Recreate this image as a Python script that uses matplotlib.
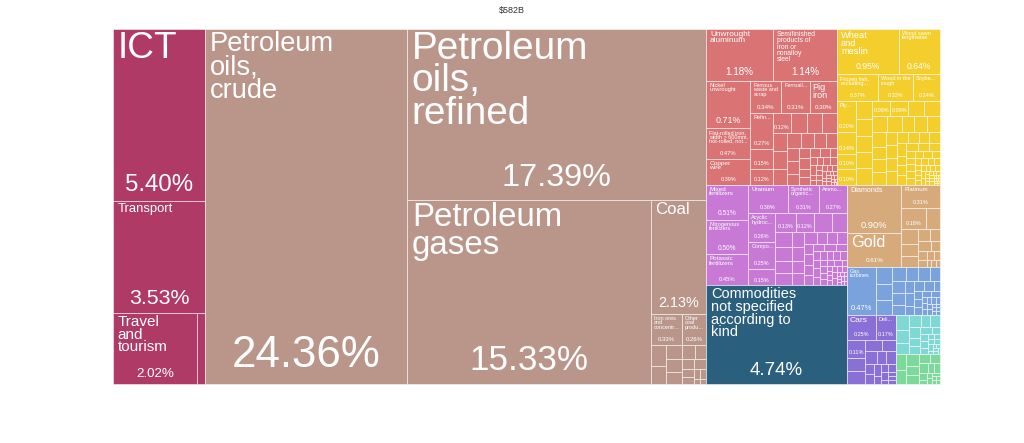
import matplotlib
matplotlib.use('Agg')
import matplotlib.pyplot as plt
from matplotlib.patches import Rectangle
from matplotlib.textpath import TextPath
from matplotlib.font_manager import FontProperties

TITLE = '$582B'

# sector groups, in the order the treemap lays them out
group_names = ['Services', 'Mineral Products', 'Metals', 'Vegetable and Animal Products',
               'Chemical Products', 'Commodities', 'Precious Metals', 'Machines',
               'Transportation', 'Instruments', 'Miscellaneous']
group_colors = ['#AF3A66', '#BA968A', '#D97374', '#F4CE2D', '#C879D6', '#2A5F7E',
                '#D7AA7B', '#7AA2DC', '#8A6FD6', '#7FD8D4', '#7DD89B']

services_names = ['ICT', 'Transport', 'Travel and tourism', '']
services_vals = [5.40, 3.53, 2.02, 0.20]

mineral_names = ['Petroleum oils, crude', 'Petroleum oils, refined', 'Petroleum gases', 'Coal',
                 'Iron ores and concentrates', 'Other coal products']
mineral_vals = [24.36, 17.39, 15.33, 2.13, 0.33, 0.26]
mineral_small = [0.10, 0.09, 0.08, 0.07, 0.07, 0.06, 0.05, 0.04, 0.04, 0.03, 0.03, 0.02,
                 0.02, 0.01, 0.01]

metals_names = ['Unwrought aluminum', 'Semifinished products of iron or nonalloy steel',
                'Nickel unwrought', 'Flat-rolled iron, width > 600mm, hot-rolled, not clad',
                'Copper wire', 'Ferrous waste and scrap', 'Ferroalloys', 'Pig iron',
                'Refined copper and copper alloys', '', '', '']
metals_vals = [1.18, 1.14, 0.71, 0.47, 0.39, 0.34, 0.31, 0.30, 0.27, 0.15, 0.12, 0.12]
metals_small = [0.11, 0.10, 0.10, 0.09, 0.09, 0.08, 0.07, 0.07, 0.06, 0.06, 0.05, 0.05,
                0.04, 0.04, 0.04, 0.03, 0.03, 0.03, 0.03, 0.02, 0.02, 0.02, 0.02, 0.02, 0.02,
                0.01, 0.01, 0.01, 0.01, 0.01, 0.01, 0.01, 0.01, 0.01, 0.01,
                0.005, 0.005, 0.005, 0.005, 0.005, 0.005, 0.005, 0.005,
                0.004, 0.004, 0.003, 0.003, 0.002, 0.002, 0.002, 0.001]

veg_names = ['Wheat and meslin', 'Wood sawn lengthwise', 'Frozen fish, excluding fillets',
             'Wood in the rough', 'Soybeans and oleaginous fruits', 'Plywood, veneered panels', '']
veg_vals = [0.95, 0.64, 0.37, 0.32, 0.24, 0.20, 0.14]
veg_small = [0.10, 0.10, 0.10, 0.09, 0.09, 0.09, 0.09, 0.09, 0.09,
             0.08, 0.08, 0.08, 0.08, 0.07, 0.07, 0.07, 0.07, 0.06, 0.06, 0.06,
             0.05, 0.05, 0.05, 0.05, 0.04, 0.04, 0.04, 0.04, 0.04,
             0.03, 0.03, 0.03, 0.03, 0.03, 0.03,
             0.02, 0.02, 0.02, 0.02, 0.02, 0.02, 0.02, 0.02, 0.015, 0.015, 0.015, 0.015,
             0.01, 0.01, 0.01, 0.01, 0.01, 0.01, 0.01, 0.01, 0.01, 0.01,
             0.005, 0.005, 0.005, 0.005, 0.005, 0.005, 0.005, 0.005, 0.005, 0.005,
             0.002, 0.002, 0.002, 0.002, 0.002, 0.002, 0.002, 0.002, 0.002, 0.002]

chem_names = ['Mixed fertilizers', 'Nitrogenous fertilizers', 'Potassic fertilizers', 'Uranium',
              'Synthetic organic coloring matter', 'Ammonia', 'Acyclic hydrocarbons',
              'Compounds of rare-earth metals', '', '']
chem_vals = [0.51, 0.50, 0.45, 0.38, 0.31, 0.27, 0.26, 0.25, 0.15, 0.13]
chem_small = [0.12, 0.11, 0.10, 0.09, 0.08, 0.07, 0.07, 0.06, 0.06, 0.05, 0.05, 0.05,
              0.04, 0.04, 0.04, 0.03, 0.03, 0.03, 0.03, 0.03, 0.03, 0.03,
              0.02, 0.02, 0.02, 0.02, 0.02, 0.02, 0.02, 0.02,
              0.015, 0.015, 0.015, 0.015, 0.015, 0.015,
              0.01, 0.01, 0.01, 0.01, 0.01, 0.01, 0.01, 0.01, 0.01, 0.01,
              0.005, 0.005, 0.005, 0.005, 0.005, 0.005, 0.005, 0.005, 0.005, 0.005]

commod_names = ['Commodities not specified according to kind']
commod_vals = [4.74]

precious_names = ['Diamonds', 'Gold', 'Platinum', '']
precious_vals = [0.90, 0.61, 0.31, 0.18]
precious_small = [0.10, 0.08, 0.07, 0.06, 0.05, 0.04, 0.04, 0.03, 0.03, 0.02, 0.02, 0.02,
                  0.01, 0.01, 0.01]

mach_names = ['Gas turbines']
mach_vals = [0.47]
mach_small = [0.10, 0.09, 0.08, 0.07, 0.06, 0.06, 0.05, 0.05, 0.05, 0.04, 0.04, 0.04, 0.03,
              0.03, 0.03, 0.02, 0.02, 0.02, 0.02, 0.02, 0.02, 0.01, 0.01, 0.01, 0.01, 0.01,
              0.01, 0.01, 0.01, 0.005, 0.005, 0.005, 0.005, 0.005, 0.005]

transp_names = ['Cars', 'Delivery trucks', '', '', '']
transp_vals = [0.25, 0.17, 0.11, 0.08, 0.08]
transp_small = [0.06, 0.05, 0.05, 0.04, 0.04, 0.03, 0.03, 0.03, 0.02, 0.02, 0.02, 0.02,
                0.01, 0.01, 0.01, 0.01]

instr_small = [0.07, 0.06, 0.05, 0.05, 0.04, 0.04, 0.04, 0.03, 0.03, 0.03, 0.02, 0.02, 0.02,
               0.02, 0.01, 0.01, 0.01, 0.01, 0.01, 0.005, 0.005, 0.005, 0.005, 0.005, 0.005]

misc_small = [0.06, 0.05, 0.05, 0.04, 0.04, 0.03, 0.03, 0.03, 0.02, 0.02, 0.02,
              0.01, 0.01, 0.01, 0.01, 0.005, 0.005, 0.005, 0.005]

FONT = ['Liberation Sans', 'DejaVu Sans']
PROP = FontProperties(family=FONT)
PT = 72 / 100          # points per pixel at dpi 100
MIN_FS = 5.5           # smallest text, in pixels
LINE_H = 1.0
EDGE = (1, 1, 1, 0.6)
LEFT, TOP, RIGHT, BOTTOM = 113, 29, 940, 384

_widths = {}


def em_width(s):
    if s not in _widths:
        _widths[s] = TextPath((0, 0), s, size=100, prop=PROP).get_extents().width / 100
    return _widths[s]


def squarify(values, x0, y0, x1, y1, ratio=1.0):
    # row rule of d3.treemapSquarify
    rects = [None] * len(values)
    total = sum(values)
    i0, n = 0, len(values)
    while i0 < n:
        dx, dy = x1 - x0, y1 - y0
        s = values[i0]
        i1 = i0 + 1
        vmin = vmax = s
        alpha = max(dy / dx, dx / dy) / (total * ratio)
        beta = s * s * alpha
        best = max(vmax / beta, beta / vmin)
        while i1 < n:
            v = values[i1]
            s2 = s + v
            beta = s2 * s2 * alpha
            r = max(max(vmax, v) / beta, beta / min(vmin, v))
            if r > best:
                break
            s, best = s2, r
            vmin, vmax = min(vmin, v), max(vmax, v)
            i1 += 1
        if dx < dy:
            h = dy * s / total
            x = x0
            for i in range(i0, i1):
                w = dx * values[i] / s
                rects[i] = (x, y0, w, h)
                x += w
            y0 += h
        else:
            w = dx * s / total
            y = y0
            for i in range(i0, i1):
                h = dy * values[i] / s
                rects[i] = (x0, y, w, h)
                y += h
            x0 += w
        total -= s
        i0 = i1
    return rects


def wrap(words, fs, maxw):
    lines, cur = [], ''
    for wd in words:
        if em_width(wd) * fs > maxw:
            return None
        t = (cur + ' ' + wd).strip()
        # joined lines need a little slack, single words may fill the width
        if not cur or em_width(t) * fs <= 0.97 * maxw:
            cur = t
            continue
        lines.append(cur)
        cur = wd
    lines.append(cur)
    return lines


def wrap_cut(words, fs, maxw, nmax):
    lines, cur, cut = [], '', False
    for wd in words:
        t = (cur + ' ' + wd).strip()
        if em_width(t) * fs <= maxw:
            cur = t
            continue
        if cur:
            lines.append(cur)
        cur = wd
        if em_width(wd) * fs > maxw:
            cut = True
            break
    lines.append(cur)
    if len(lines) > nmax:
        lines, cut = lines[:nmax], True
    if cut:
        last = lines[-1]
        while len(last) > 1 and em_width(last + '...') * fs > maxw:
            last = last[:-1]
        lines[-1] = last.rstrip(' ,') + '...'
    return lines


def fit_label(name, w, avail):
    words = name.split()
    fs = 60.0
    while fs >= MIN_FS:
        lines = wrap(words, fs, 0.6 * w)
        if lines and (len(lines) * LINE_H + 0.2) * fs <= avail:
            return lines, fs
        fs -= 0.25
    nmax = int((avail - 0.2 * MIN_FS) // (MIN_FS * LINE_H))
    if nmax < 1:
        return None, 0
    return wrap_cut(words, MIN_FS, w - 5, nmax), MIN_FS


def draw_cell_text(ax, x, y, w, h, name, val):
    pct = f'{val:.2f}%'
    pfs = min(0.72 * w / em_width(pct), 0.19 * h, 48)
    if pfs < MIN_FS:
        pfs = MIN_FS if (w >= 17.5 and h >= 14) else 0
    if pfs:
        ax.text(x + w / 2, y + h - 0.35 * pfs - 2, pct, ha='center', va='baseline',
                fontsize=pfs * PT, color='white', family=FONT)
    if name and w >= 18 and h >= 20:
        avail = h - (pfs * 1.3 if pfs else 0) - 4
        lines, fs = fit_label(name, w, avail)
        if lines:
            ax.text(x + 2 + min(3, 0.03 * w), y + 2, '\n'.join(lines), ha='left', va='top',
                    fontsize=fs * PT, color='white', family=FONT, linespacing=0.87)


groups = [
    (services_names, services_vals),
    (mineral_names + [''] * len(mineral_small), mineral_vals + mineral_small),
    (metals_names + [''] * len(metals_small), metals_vals + metals_small),
    (veg_names + [''] * len(veg_small), veg_vals + veg_small),
    (chem_names + [''] * len(chem_small), chem_vals + chem_small),
    (commod_names, commod_vals),
    (precious_names + [''] * len(precious_small), precious_vals + precious_small),
    (mach_names + [''] * len(mach_small), mach_vals + mach_small),
    (transp_names + [''] * len(transp_small), transp_vals + transp_small),
    ([''] * len(instr_small), instr_small),
    ([''] * len(misc_small), misc_small),
]

fig = plt.figure(figsize=(10.24, 4.43), dpi=100)
ax = fig.add_axes([0, 0, 1, 1])
ax.set_xlim(0, 1024)
ax.set_ylim(443, 0)
ax.axis('off')

totals = [sum(vals) for _, vals in groups]
group_rects = squarify(totals, LEFT, TOP, RIGHT, BOTTOM)

for (names, vals), color, (gx, gy, gw, gh) in zip(groups, group_colors, group_rects):
    order = sorted(range(len(vals)), key=lambda i: -vals[i])
    svals = [vals[i] for i in order]
    snames = [names[i] for i in order]
    cells = squarify(svals, gx, gy, gx + gw, gy + gh)
    for (x, y, w, h), name, v in zip(cells, snames, svals):
        ax.add_patch(Rectangle((x, y), w, h, facecolor=color, edgecolor=EDGE, linewidth=0.6))
        draw_cell_text(ax, x, y, w, h, name, v)

ax.text(512, 10, TITLE, ha='center', va='center', fontsize=6.5, color='#333333', family=FONT)

fig.savefig('out.png', dpi=100)
